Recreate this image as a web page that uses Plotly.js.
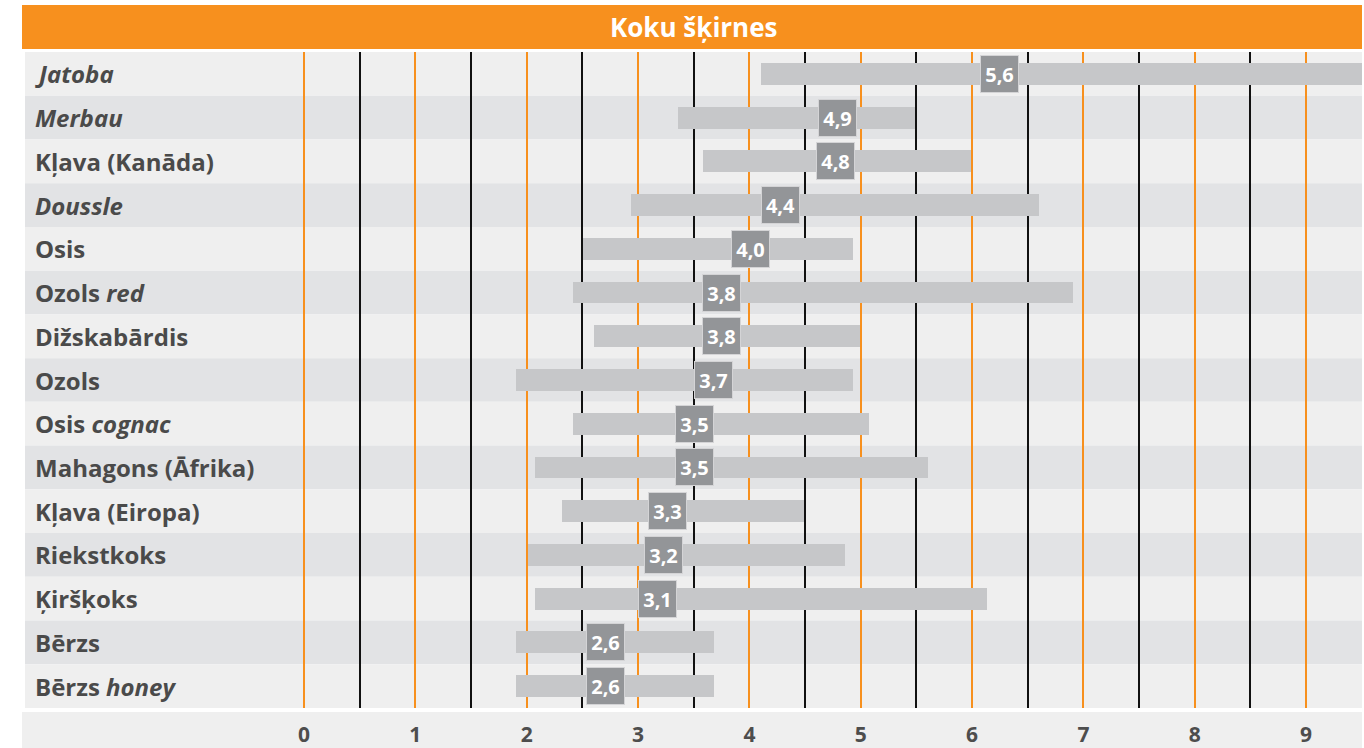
<!DOCTYPE html>
<html><head><meta charset="utf-8">
<script src="https://cdn.plot.ly/plotly-3.0.1.min.js"></script>
<style>html,body{margin:0;padding:0;background:#fff;}#chart{width:1364px;height:748px;}</style>
</head><body><div id="chart"></div>
<script>
// Data
const categories = ["<i>Jatoba</i>","<i>Merbau</i>","Kļava (Kanāda)","<i>Doussle</i>","Osis","Ozols <i>red</i>","Dižskabārdis","Ozols","Osis <i>cognac</i>","Mahagons (Āfrika)","Kļava (Eiropa)","Riekstkoks","Ķiršķoks","Bērzs","Bērzs <i>honey</i>"];
const rangeMin = [4.1, 3.36, 3.58, 2.94, 2.51, 2.42, 2.60, 1.90, 2.42, 2.07, 2.32, 2.01, 2.07, 1.90, 1.90];
const rangeMax = [9.8, 5.49, 5.99, 6.60, 4.93, 6.91, 4.99, 4.93, 5.07, 5.60, 4.49, 4.86, 6.13, 3.68, 3.68];
const labelPos = [6.25, 4.79, 4.77, 4.28, 4.01, 3.745, 3.745, 3.68, 3.505, 3.505, 3.265, 3.23, 3.175, 2.705, 2.705];
const labelText = ["5,6","4,9","4,8","4,4","4,0","3,8","3,8","3,7","3,5","3,5","3,3","3,2","3,1","2,6","2,6"];
const tickVals = [0,1,2,3,4,5,6,7,8,9];
const halfVals = [0.5,1.5,2.5,3.5,4.5,5.5,6.5,7.5,8.5];
const title = "Koku šķirnes";

const W = 1364, H = 748;
const mL = 25, mR = 2, mT = 52, mB = 40;
const idx = categories.map((_, i) => i);

const shapes = [];
// header bar
shapes.push({type:'rect', xref:'paper', yref:'paper', x0:-3/1337, x1:1, y0:1+3/656, y1:1+47/656, fillcolor:'#f7901e', line:{width:0}, layer:'below'});
// row backgrounds
idx.forEach(i => {
  shapes.push({type:'rect', xref:'paper', yref:'y', x0:0, x1:1, y0:i-0.5, y1:i+0.5,
    fillcolor: i % 2 === 0 ? '#efefef' : '#e2e3e5', line:{width:0}, layer:'below'});
});
// bottom axis strip
shapes.push({type:'rect', xref:'paper', yref:'paper', x0:-3/1337, x1:1, y0:-4/656, y1:-40/656, fillcolor:'#efefef', line:{width:0}, layer:'below'});

const annotations = [];
annotations.push({xref:'paper', yref:'paper', x:0.5, y:1+25/656, xanchor:'center', yanchor:'middle', showarrow:false,
  text:'<b>'+title+'</b>', font:{family:'Open Sans', size:26, color:'#ffffff'}});
idx.forEach(i => {
  annotations.push({xref:'paper', yref:'y', x:0, xshift:8, y:i, xanchor:'left', yanchor:'middle', showarrow:false,
    text:'<b>'+categories[i]+'</b>', font:{family:'Open Sans', size:24, color:'#4a4a4a'}});
  annotations.push({xref:'x', yref:'y', x:labelPos[i], y:i, xanchor:'center', yanchor:'middle', showarrow:false,
    text:'<b>'+labelText[i]+'</b>', font:{family:'Open Sans', size:20, color:'#ffffff'},
    bgcolor:'#939598', bordercolor:'#d4d4d6', borderwidth:1, borderpad:0, width:37, height:36});
});

const trace = {
  type:'bar', orientation:'h', y: idx, base: rangeMin,
  x: rangeMax.map((v, i) => v - rangeMin[i]),
  width: 0.5, marker:{color:'#c6c7c9', line:{width:0}}, hoverinfo:'skip'
};

const layout = {
  width: W, height: H, margin:{l:mL, r:mR, t:mT, b:mB},
  paper_bgcolor:'#ffffff', plot_bgcolor:'rgba(0,0,0,0)', showlegend:false,
  xaxis:{range:[-2.506, 9.502], tickmode:'array', tickvals: tickVals, ticktext: tickVals.map(String),
    showgrid:true, gridcolor:'#f7901e', gridwidth:2, zeroline:false, showline:false, ticks:'',
    tickfont:{family:'Open Sans', size:21, color:'#4d4d4d', weight:700}, ticklabelstandoff: 12,
    minor:{tickmode:'array', tickvals: halfVals, showgrid:true, gridcolor:'#111111', gridwidth:2, ticks:''},
    fixedrange:true},
  yaxis:{range:[14.5, -0.5], showgrid:false, zeroline:false, showticklabels:false, ticks:'', fixedrange:true},
  shapes, annotations, bargap:0
};

Plotly.newPlot('chart', [trace], layout, {displayModeBar:false, staticPlot:true});
</script></body></html>
